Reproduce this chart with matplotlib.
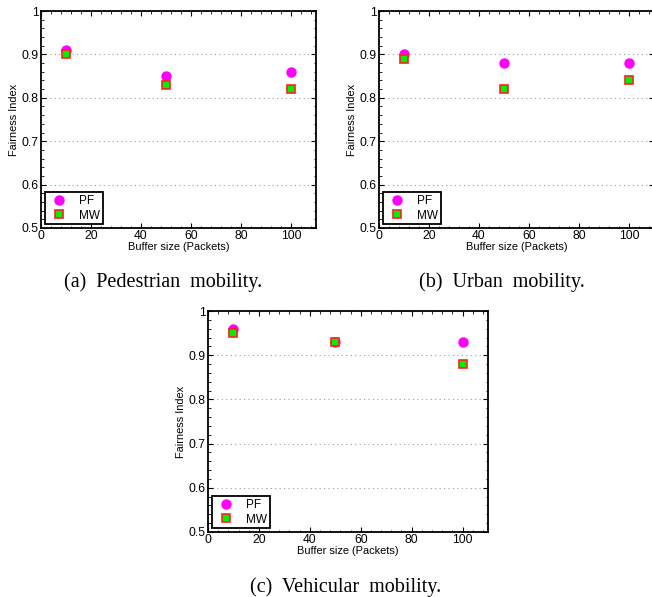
import matplotlib
matplotlib.use('Agg')
import matplotlib.pyplot as plt
from matplotlib.ticker import AutoMinorLocator, MultipleLocator

# buffer sizes (packets)
buffer_size = [10, 50, 100]

# fairness index per scenario
ped_pf = [0.91, 0.85, 0.86]
ped_mw = [0.90, 0.83, 0.82]
urb_pf = [0.90, 0.88, 0.88]
urb_mw = [0.89, 0.82, 0.84]
veh_pf = [0.96, 0.93, 0.93]
veh_mw = [0.95, 0.93, 0.88]

captions = ['(a)  Pedestrian  mobility.', '(b)  Urban  mobility.', '(c)  Vehicular  mobility.']

sans = ['Liberation Sans', 'DejaVu Sans']
serif = ['Liberation Serif', 'DejaVu Serif']

fig = plt.figure(figsize=(6.52, 5.97), dpi=100)

# axes rectangles in figure fractions
rects = [
    [41 / 652, 1 - 228 / 597, 275 / 652, 217 / 597],
    [379 / 652, 1 - 228 / 597, 275 / 652, 217 / 597],
    [208 / 652, 1 - 532 / 597, 280 / 652, 221 / 597],
]
data = [(ped_pf, ped_mw), (urb_pf, urb_mw), (veh_pf, veh_mw)]


def draw(ax, pf, mw):
    ax.plot(buffer_size, pf, 'o', color='#ff00ff', markersize=6.5, label='PF', zorder=3)
    ax.plot(buffer_size, mw, 's', markerfacecolor='#00ee00', markeredgecolor='#ff2020',
            markeredgewidth=1.2, markersize=5.5, label='MW', zorder=4)
    ax.set_xlim(0, 110)
    ax.set_ylim(0.5, 1.0)
    ax.xaxis.set_major_locator(MultipleLocator(20))
    ax.yaxis.set_major_locator(MultipleLocator(0.1))
    ax.xaxis.set_minor_locator(AutoMinorLocator(5))
    ax.yaxis.set_minor_locator(AutoMinorLocator(5))
    ax.yaxis.set_major_formatter(plt.FuncFormatter(lambda v, p: '1' if abs(v - 1) < 1e-9 else '%.1f' % v))
    ax.tick_params(which='both', direction='in', top=True, right=True, labelsize=8.7, pad=1.5)
    ax.tick_params(which='major', length=3.5, width=0.8)
    ax.tick_params(which='minor', length=1.8, width=0.6)
    for lab in ax.get_xticklabels() + ax.get_yticklabels():
        lab.set_family(sans)
    for s in ax.spines.values():
        s.set_linewidth(1.3)
    ax.grid(axis='y', which='major', linestyle=(0, (1, 3)), color='#999999', linewidth=0.8)
    ax.set_xlabel('Buffer size (Packets)', fontsize=7.9, family=sans, labelpad=0)
    ax.set_ylabel('Fairness Index', fontsize=7.9, family=sans, labelpad=2)
    leg = ax.legend(loc='lower left', prop={'family': sans, 'size': 8.5},
                    fancybox=False, framealpha=1, edgecolor='black', borderaxespad=0.3,
                    handlelength=2.0, handletextpad=0.7, borderpad=0.25, labelspacing=0.2)
    leg.get_frame().set_linewidth(1.3)


for r, (pf, mw) in zip(rects, data):
    ax = fig.add_axes(r)
    draw(ax, pf, mw)

fig.text(163 / 652, 1 - 282 / 597, captions[0], ha='center', va='center', fontsize=14.5, family=serif)
fig.text(502 / 652, 1 - 282 / 597, captions[1], ha='center', va='center', fontsize=14.5, family=serif)
fig.text(346 / 652, 1 - 587 / 597, captions[2], ha='center', va='center', fontsize=14.5, family=serif)

fig.savefig('out.png', dpi=100)
